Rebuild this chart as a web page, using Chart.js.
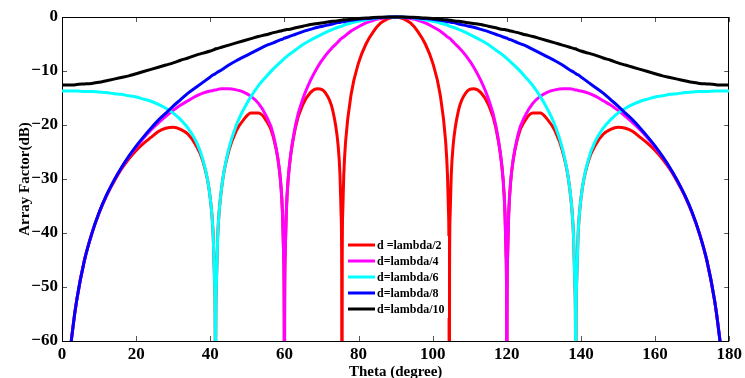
<!DOCTYPE html>
<html>
<head>
<meta charset="utf-8">
<script src="https://cdn.jsdelivr.net/npm/chart.js@4.4.1/dist/chart.umd.min.js"></script>
<style>
  html, body { margin: 0; padding: 0; background: #fff; }
</style>
</head>
<body>
<canvas id="myChart" width="745" height="378"></canvas>
<script>
// Theta in degrees (denser around the nulls)
var theta = [
  0, 2, 3, 4, 6, 8, 10, 12, 14, 16, 18, 20, 22, 24, 26, 28, 30, 32, 34, 36, 38, 40, 40.8,
  41.2, 41.35, 41.41, 41.47, 41.6, 42, 43, 45, 47, 49, 51, 53, 55, 57, 59, 59.5,
  59.8, 59.95, 60, 60.05, 60.2, 60.5, 61, 63, 65, 67, 69, 71, 73, 74.5, 75,
  75.3, 75.45, 75.52, 75.6, 75.75, 76, 76.5, 78, 80, 82, 84, 86, 88, 90,
  92, 94, 96, 98, 100, 102, 103.5, 104, 104.25, 104.4, 104.48, 104.55, 104.7,
  105, 105.5, 107, 109, 111, 113, 115, 117, 119, 119.5, 119.8, 119.95, 120, 120.05, 120.2,
  120.5, 121, 123, 125, 127, 129, 131, 133, 135, 137, 138, 138.4, 138.53, 138.59, 138.65, 138.8,
  139.2, 140, 142, 144, 146, 148, 150, 152, 154, 156, 158, 160, 162, 164, 166, 168, 170, 172,
  174, 176, 177, 178, 180
];

// Array factor in dB, one list per spacing (values far below -60 are the nulls)
var afHalf = [
  -100, -64.3, -57.2, -52.3, -45.2, -40.2, -36.3, -33.1, -30.5, -28.2, -26.3, -24.7, -23.4, -22.3,
  -21.2, -20.6, -20.4, -20.8, -21.7, -23.6, -26.7, -33.6, -40.7, -49.9, -60.8, -100, -60.6, -50.5,
  -40.7, -32.0, -24.8, -21.1, -19.0, -17.8, -17.8, -19.1, -22.2, -30.7, -36.6, -44.5, -56.6, -100,
  -56.3, -44.2, -36.3, -30.1, -20.4, -16.2, -14.0, -13.3, -14.0, -17.2, -23.9, -29.4, -36.8, -46.8,
  -100, -45.1, -35.9, -29.5, -23.1, -14.3, -8.5, -5.0, -2.7, -1.1, -0.3, 0,
  -0.3, -1.1, -2.7, -5.0, -8.5, -14.3, -23.1, -29.5, -35.9, -45.1, -100, -46.8, -36.8, -29.4,
  -23.9, -17.2, -14.0, -13.3, -14.0, -16.2, -20.4, -30.1, -36.3, -44.2, -56.3, -100, -56.6, -44.5,
  -36.6, -30.7, -22.2, -19.1, -17.8, -17.8, -19.0, -21.1, -24.8, -32.0, -40.7, -50.5, -60.6, -100,
  -60.8, -49.9, -40.7, -33.6, -26.7, -23.6, -21.7, -20.8, -20.4, -20.6, -21.2, -22.3, -23.4, -24.7,
  -26.3, -28.2, -30.5, -33.1, -36.3, -40.2, -45.2, -52.3, -57.2, -64.3, -100
];
var afQuarter = [
  -100, -64.3, -57.2, -52.3, -45.2, -40.2, -36.3, -33.1, -30.3, -28.0, -25.9, -24.1, -22.4, -20.9,
  -19.6, -18.4, -17.3, -16.3, -15.5, -14.7, -14.1, -13.7, -13.6, -13.5, -13.5, -13.5, -13.5, -13.5,
  -13.4, -13.3, -13.3, -13.5, -13.9, -14.7, -16.0, -18.2, -21.8, -30.7, -36.6, -44.5, -56.6, -100,
  -56.3, -44.2, -36.3, -30.1, -20.0, -15.1, -11.8, -9.2, -7.2, -5.6, -4.6, -4.2, -4.0, -3.95,
  -3.9, -3.85, -3.8, -3.7, -3.4, -2.6, -1.8, -1.1, -0.6, -0.3, -0.1, 0,
  -0.1, -0.3, -0.6, -1.1, -1.8, -2.6, -3.4, -3.7, -3.8, -3.85, -3.9, -3.95, -4.0, -4.2,
  -4.6, -5.6, -7.2, -9.2, -11.8, -15.1, -20.0, -30.1, -36.3, -44.2, -56.3, -100, -56.6, -44.5,
  -36.6, -30.7, -21.8, -18.2, -16.0, -14.7, -13.9, -13.5, -13.3, -13.3, -13.4, -13.5, -13.5, -13.5,
  -13.5, -13.5, -13.6, -13.7, -14.1, -14.7, -15.5, -16.3, -17.3, -18.4, -19.6, -20.9, -22.4, -24.1,
  -25.9, -28.0, -30.3, -33.1, -36.3, -40.2, -45.2, -52.3, -57.2, -64.3, -100
];
var afSixth = [
  -13.7, -13.7, -13.7, -13.7, -13.8, -13.8, -13.9, -14.0, -14.2, -14.3, -14.6, -14.8, -15.2, -15.6,
  -16.2, -16.9, -17.8, -19.0, -20.6, -22.8, -26.4, -33.6, -40.7, -49.9, -60.8, -100, -60.6, -50.5,
  -40.7, -31.9, -24.4, -20.1, -17.1, -14.7, -12.7, -11.1, -9.6, -8.3, -8.0, -7.8, -7.7, -7.7,
  -7.65, -7.55, -7.4, -7.1, -6.1, -5.1, -4.3, -3.6, -2.9, -2.3, -1.9, -1.8, -1.75, -1.7,
  -1.7, -1.65, -1.6, -1.5, -1.4, -1.1, -0.8, -0.5, -0.3, -0.1, -0.03, 0,
  -0.03, -0.1, -0.3, -0.5, -0.8, -1.1, -1.4, -1.5, -1.6, -1.65, -1.7, -1.7, -1.75, -1.8,
  -1.9, -2.3, -2.9, -3.6, -4.3, -5.1, -6.1, -7.1, -7.4, -7.55, -7.65, -7.7, -7.7, -7.8,
  -8.0, -8.3, -9.6, -11.1, -12.7, -14.7, -17.1, -20.1, -24.4, -31.9, -40.7, -50.5, -60.6, -100,
  -60.8, -49.9, -40.7, -33.6, -26.4, -22.8, -20.6, -19.0, -17.8, -16.9, -16.2, -15.6, -15.2, -14.8,
  -14.6, -14.3, -14.2, -14.0, -13.9, -13.8, -13.8, -13.7, -13.7, -13.7, -13.7
];
var afEighth = [
  -100, -64.3, -57.2, -52.3, -45.2, -40.2, -36.2, -33.0, -30.3, -27.9, -25.8, -23.9, -22.2, -20.6,
  -19.1, -17.8, -16.5, -15.3, -14.1, -13.1, -12.1, -11.1, -10.7, -10.6, -10.5, -10.5, -10.4, -10.4,
  -10.2, -9.8, -8.9, -8.1, -7.4, -6.7, -6.0, -5.3, -4.8, -4.2, -4.1, -4.0, -3.9, -3.9,
  -3.9, -3.9, -3.8, -3.7, -3.2, -2.7, -2.3, -1.9, -1.6, -1.3, -1.0, -1.0, -0.95, -0.9,
  -0.9, -0.9, -0.9, -0.9, -0.8, -0.6, -0.4, -0.3, -0.2, -0.07, -0.02, 0,
  -0.02, -0.07, -0.2, -0.3, -0.4, -0.6, -0.8, -0.9, -0.9, -0.9, -0.9, -0.9, -0.95, -1.0,
  -1.0, -1.3, -1.6, -1.9, -2.3, -2.7, -3.2, -3.7, -3.8, -3.9, -3.9, -3.9, -3.9, -4.0,
  -4.1, -4.2, -4.8, -5.3, -6.0, -6.7, -7.4, -8.1, -8.9, -9.8, -10.2, -10.4, -10.4, -10.5,
  -10.5, -10.6, -10.7, -11.1, -12.1, -13.1, -14.1, -15.3, -16.5, -17.8, -19.1, -20.6, -22.2, -23.9,
  -25.8, -27.9, -30.3, -33.0, -36.2, -40.2, -45.2, -52.3, -57.2, -64.3, -100
];
var afTenth = [
  -12.6, -12.6, -12.6, -12.5, -12.4, -12.3, -12.1, -11.8, -11.5, -11.2, -10.9, -10.5, -10.1, -9.7,
  -9.3, -8.9, -8.5, -8.0, -7.6, -7.1, -6.7, -6.3, -6.1, -6.0, -5.9, -5.9, -5.9, -5.9,
  -5.8, -5.6, -5.2, -4.8, -4.4, -4.0, -3.6, -3.3, -2.9, -2.6, -2.5, -2.45, -2.4, -2.4,
  -2.4, -2.4, -2.3, -2.3, -2.0, -1.7, -1.4, -1.2, -1.0, -0.8, -0.7, -0.6, -0.6, -0.6,
  -0.6, -0.6, -0.55, -0.5, -0.5, -0.4, -0.3, -0.2, -0.1, -0.05, -0.01, 0,
  -0.01, -0.05, -0.1, -0.2, -0.3, -0.4, -0.5, -0.5, -0.55, -0.6, -0.6, -0.6, -0.6, -0.6,
  -0.7, -0.8, -1.0, -1.2, -1.4, -1.7, -2.0, -2.3, -2.3, -2.4, -2.4, -2.4, -2.4, -2.45,
  -2.5, -2.6, -2.9, -3.3, -3.6, -4.0, -4.4, -4.8, -5.2, -5.6, -5.8, -5.9, -5.9, -5.9,
  -5.9, -6.0, -6.1, -6.3, -6.7, -7.1, -7.6, -8.0, -8.5, -8.9, -9.3, -9.7, -10.1, -10.5,
  -10.9, -11.2, -11.5, -11.8, -12.1, -12.3, -12.4, -12.5, -12.6, -12.6, -12.6
];

var labels = ['d =lambda/2', 'd=lambda/4', 'd=lambda/6', 'd=lambda/8', 'd=lambda/10'];
var xTicks = [0, 20, 40, 60, 80, 100, 120, 140, 160, 180];
var yTicks = [0, -10, -20, -30, -40, -50, -60];

var serif = '"Liberation Serif", "Times New Roman", serif';

function pts(vals) {
  return theta.map(function (t, i) { return { x: t, y: vals[i] }; });
}

function series(label, vals, color, order) {
  return {
    label: label,
    data: pts(vals),
    borderColor: color,
    backgroundColor: color,
    borderWidth: 3,
    pointRadius: 0,
    fill: false,
    cubicInterpolationMode: 'monotone',
    clip: { left: 0, top: 2, right: 0, bottom: 0 },
    order: order
  };
}

// axes box with inward ticks on all four sides
var boxPlugin = {
  id: 'box',
  beforeDatasetsDraw: function (chart) {
    var a = chart.chartArea, c = chart.ctx, len = 5;
    var xs = chart.scales.x, ys = chart.scales.y;
    c.save();
    c.strokeStyle = '#555';
    c.lineWidth = 1;
    c.beginPath();
    xTicks.forEach(function (v) {
      var px = Math.round(xs.getPixelForValue(v)) + 0.5;
      c.moveTo(px, a.bottom); c.lineTo(px, a.bottom - len);
      c.moveTo(px, a.top); c.lineTo(px, a.top + len);
    });
    yTicks.forEach(function (v) {
      var py = Math.round(ys.getPixelForValue(v)) + 0.5;
      c.moveTo(a.left, py); c.lineTo(a.left + len, py);
      c.moveTo(a.right, py); c.lineTo(a.right - len, py);
    });
    c.stroke();
    c.strokeStyle = '#000';
    c.strokeRect(Math.round(a.left) + 0.5, Math.round(a.top) + 0.5,
      Math.round(a.right - a.left) - 1, Math.round(a.bottom - a.top));
    c.restore();
  }
};

// legend box sitting inside the plot, below the main lobe
var legendPlugin = {
  id: 'boxLegend',
  afterDatasetsDraw: function (chart) {
    var a = chart.chartArea, c = chart.ctx;
    var x0 = a.left + 284, y0 = a.top + 219;
    c.save();
    c.fillStyle = '#fff';
    c.fillRect(x0, y0, 102, 82);
    c.font = 'bold 12px ' + serif;
    c.textBaseline = 'middle';
    c.textAlign = 'left';
    chart.data.datasets.forEach(function (ds, i) {
      var y = y0 + 9 + 16 * i;
      c.strokeStyle = ds.borderColor;
      c.lineWidth = 3;
      c.beginPath();
      c.moveTo(x0 + 2, y);
      c.lineTo(x0 + 29, y);
      c.stroke();
      c.fillStyle = '#000';
      c.fillText(ds.label, x0 + 31, y + 1);
    });
    c.restore();
  }
};

var ctx = document.getElementById('myChart').getContext('2d');
var chart = new Chart(ctx, {
  type: 'line',
  data: {
    datasets: [
      series(labels[0], afHalf, '#ff0000', 5),
      series(labels[1], afQuarter, '#ff00ff', 4),
      series(labels[2], afSixth, '#00ffff', 3),
      series(labels[3], afEighth, '#0000ff', 2),
      series(labels[4], afTenth, '#000000', 1)
    ]
  },
  options: {
    responsive: false,
    animation: false,
    devicePixelRatio: 1,
    layout: {
      padding: { top: 17, right: 12, bottom: 0, left: 0 }
    },
    plugins: {
      legend: { display: false },
      tooltip: { enabled: false }
    },
    scales: {
      x: {
        type: 'linear',
        min: 0,
        max: 180,
        afterFit: function (s) { s.height = 37; },
        grid: { display: false, drawTicks: false },
        border: { display: false },
        ticks: {
          stepSize: 20,
          autoSkip: false,
          maxRotation: 0,
          padding: 3,
          color: '#000',
          font: { family: serif, size: 17, weight: 'bold' }
        },
        title: {
          display: true,
          text: 'Theta (degree)',
          color: '#000',
          padding: { top: 0, bottom: -2 },
          font: { family: serif, size: 15, weight: 'bold', lineHeight: 1 }
        }
      },
      y: {
        min: -60,
        max: 0,
        afterFit: function (s) { s.width = 62; },
        grid: { display: false, drawTicks: false },
        border: { display: false },
        ticks: {
          stepSize: 10,
          padding: 4,
          color: '#000',
          font: { family: serif, size: 17, weight: 'bold' },
          callback: function (v) { return v < 0 ? '\u2212' + Math.abs(v) : '' + v; }
        },
        title: {
          display: true,
          text: 'Array Factor(dB)',
          color: '#000',
          padding: { top: 18, bottom: 0 },
          font: { family: serif, size: 15, weight: 'bold', lineHeight: 1 }
        }
      }
    }
  },
  plugins: [boxPlugin, legendPlugin]
});
</script>
</body>
</html>
